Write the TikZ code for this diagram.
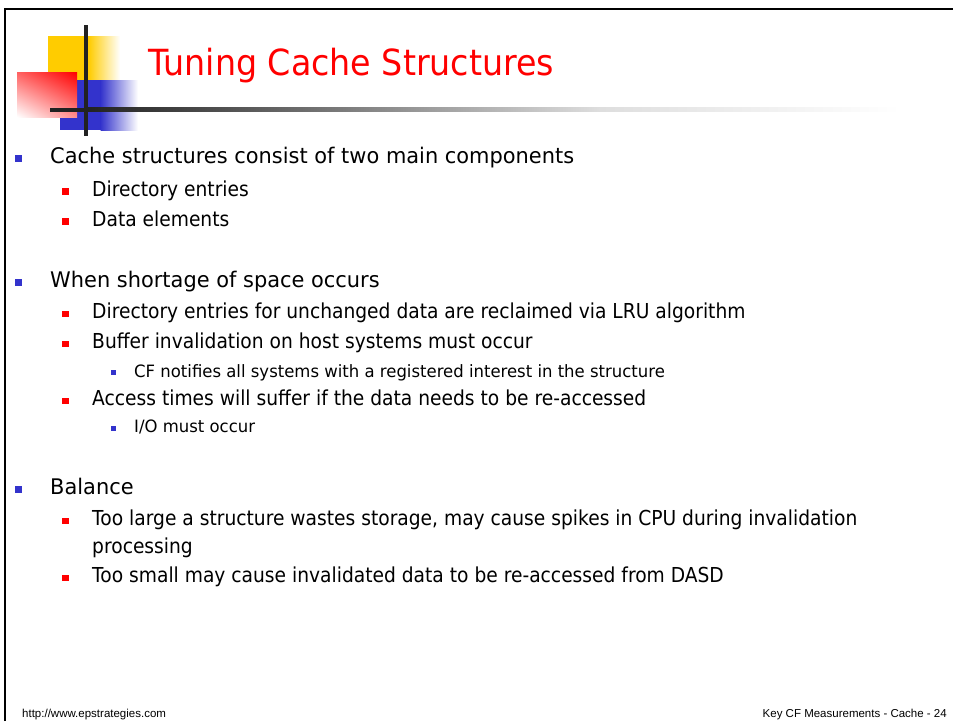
\documentclass[tikz,border=0pt]{standalone}
\usepackage{fontspec}
\usetikzlibrary{shadings}
\newfontfamily\titlefont{DejaVu Sans}[FakeStretch=0.925]
\newfontfamily\onefont{DejaVu Sans}[FakeStretch=0.973]
\newfontfamily\twofont{DejaVu Sans}[FakeStretch=0.906]
\newfontfamily\threefont{DejaVu Sans}[FakeStretch=0.97]
\newfontfamily\footfont{Liberation Sans}
\definecolor{bulblue}{HTML}{3333CC}
\definecolor{bulred}{HTML}{FF0000}
\definecolor{titlered}{HTML}{FF0000}
\definecolor{logoyellow}{HTML}{FFCC00}
\definecolor{rulegray}{HTML}{222222}
\tikzset{
  lvlone/.style={anchor=base west, inner sep=0pt, font=\onefont\fontsize{21.5}{24}\selectfont},
  lvltwo/.style={anchor=base west, inner sep=0pt, font=\twofont\fontsize{20.6}{24}\selectfont},
  lvlthree/.style={anchor=base west, inner sep=0pt, font=\threefont\fontsize{17}{20}\selectfont},
  bulone/.style={fill=bulblue, inner sep=0pt, minimum size=7pt},
  bultwo/.style={fill=bulred, inner sep=0pt, minimum size=6.5pt},
  bulthree/.style={fill=bulblue, inner sep=0pt, minimum size=5pt},
  foottext/.style={inner sep=0pt, font=\footfont\fontsize{11.5}{13}\selectfont},
}
\begin{document}
\begin{tikzpicture}[x=1pt,y=-1pt]
\useasboundingbox (0,0) rectangle (953,721);
\fill[white] (0,0) rectangle (953,721);
% slide frame
\draw[line width=2pt, black] (5,721) -- (5,9) -- (953,9);

% logo: yellow, blue and red blocks
\fill[logoyellow] (48,36) rectangle (89,80);
\shade[left color=logoyellow, right color=white] (88.5,36) rectangle (120,80);
\fill[bulblue] (60,80) rectangle (101,130);
\shade[left color=bulblue, right color=white] (100.5,80) rectangle (138,130);
\shade[upper left=red!62!white, upper right=red, lower left=white, lower right=red!45!white] (17,72) rectangle (77,117);
% logo cross bars
\fill[rulegray] (50,107.5) rectangle (88,111.5);
\shade[left color=rulegray, right color=black!55] (87.5,107.5) rectangle (320,111.5);
\shade[left color=black!55, right color=black!13] (319.5,107.5) rectangle (600,111.5);
\shade[left color=black!13, right color=white] (599.5,107.5) rectangle (900,111.5);
\fill[rulegray] (84.2,25) rectangle (87.8,136);

% title
\node[anchor=base west, inner sep=0pt, text=titlered, font=\titlefont\fontsize{36}{40}\selectfont] (title) at (148,75) {Tuning Cache Structures};

% first block
\node[bulone] (b1) at (18.5,158.5) {};
\node[lvlone] (t1) at (50,163) {Cache structures consist of two main components};
\node[bultwo] (b11) at (65.5,191.5) {};
\node[lvltwo] (t11) at (92,196) {Directory entries};
\node[bultwo] (b12) at (65.5,221.5) {};
\node[lvltwo] (t12) at (92,226) {Data elements};

% second block
\node[bulone] (b2) at (18.5,282) {};
\node[lvlone] (t2) at (50,287) {When shortage of space occurs};
\node[bultwo] (b21) at (65.5,314) {};
\node[lvltwo] (t21) at (92,318.5) {Directory entries for unchanged data are reclaimed via LRU algorithm};
\node[bultwo] (b22) at (65.5,344) {};
\node[lvltwo] (t22) at (92,348.5) {Buffer invalidation on host systems must occur};
\node[bulthree] (b221) at (113,372.5) {};
\node[lvlthree] (t221) at (134,377) {CF notifies all systems with a registered interest in the structure};
\node[bultwo] (b23) at (65.5,401) {};
\node[lvltwo] (t23) at (92,405.5) {Access times will suffer if the data needs to be re-accessed};
\node[bulthree] (b231) at (113,428) {};
\node[lvlthree] (t231) at (134,432.5) {I/O must occur};

% third block
\node[bulone] (b3) at (18.5,489) {};
\node[lvlone] (t3) at (50,494) {Balance};
\node[bultwo] (b31) at (65.5,521) {};
\node[lvltwo] (t31) at (92,525.5) {Too large a structure wastes storage, may cause spikes in CPU during invalidation};
\node[lvltwo] (t31b) at (92,553.5) {processing};
\node[bultwo] (b32) at (65.5,578) {};
\node[lvltwo] (t32) at (92,582.5) {Too small may cause invalidated data to be re-accessed from DASD};

% footer
\node[foottext, anchor=base west] (url) at (22,717) {http://www.epstrategies.com};
\node[foottext, anchor=base east] (pageno) at (947,717) {Key CF Measurements - Cache - 24};
\end{tikzpicture}
\end{document}
